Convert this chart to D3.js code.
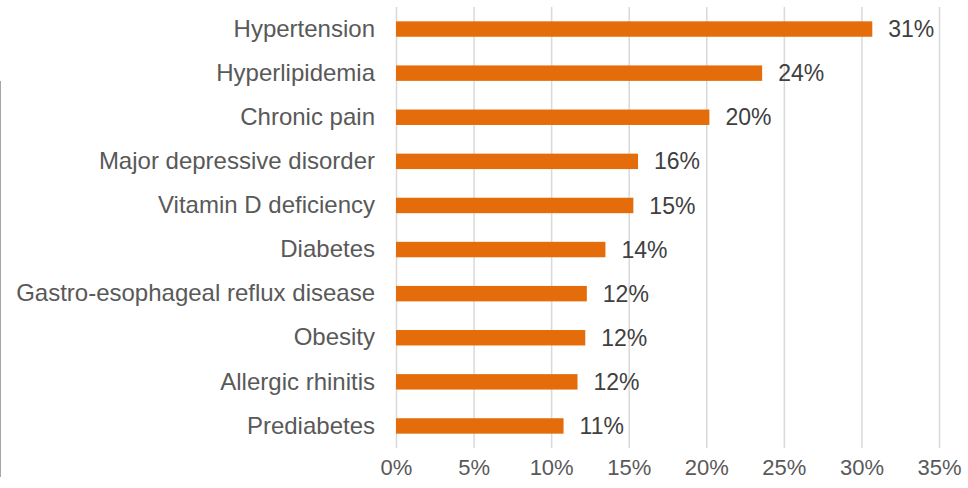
<!DOCTYPE html>
<html>
<head>
<meta charset="utf-8">
<script src="https://cdn.jsdelivr.net/npm/d3@7"></script>
<style>
  body { margin: 0; background: #fff; }
  text { font-family: 'Liberation Sans', Arial, sans-serif; }
</style>
</head>
<body>
<svg width="968" height="488"></svg>
<script>
const conditions = [
  'Hypertension',
  'Hyperlipidemia',
  'Chronic pain',
  'Major depressive disorder',
  'Vitamin D deficiency',
  'Diabetes',
  'Gastro-esophageal reflux disease',
  'Obesity',
  'Allergic rhinitis',
  'Prediabetes'
]
const shares = [30.7, 23.6, 20.2, 15.6, 15.3, 13.5, 12.3, 12.2, 11.7, 10.8]
const shareLabels = ['31%', '24%', '20%', '16%', '15%', '14%', '12%', '12%', '12%', '11%']
const xTicks = [0, 5, 10, 15, 20, 25, 30, 35]

const data = conditions.map((c, i) => ({ condition: c, share: shares[i], label: shareLabels[i] }))

const svg = d3.select('svg')
const margin = { top: 7, right: 29, bottom: 40, left: 396 }
const width = +svg.attr('width')
const height = +svg.attr('height')
const innerWidth = width - margin.left - margin.right
const innerHeight = height - margin.top - margin.bottom

// stray border line at the far left
svg.append('line')
  .attr('x1', 0.5).attr('x2', 0.5)
  .attr('y1', 81).attr('y2', 477)
  .attr('stroke', '#a6a6a6')

const g = svg.append('g')
  .attr('transform', `translate(${margin.left}, ${margin.top})`)

const xScale = d3.scaleLinear()
  .domain([0, 35])
  .range([0, 543])

const yScale = d3.scaleBand()
  .domain(conditions)
  .range([0, innerHeight])
  .paddingInner(0.65)
  .paddingOuter(0.325)

const xAxis = d3.axisBottom(xScale)
  .tickValues(xTicks)
  .tickFormat(d => d + '%')
  .tickSize(-innerHeight)
  .tickPadding(11)

const xAxisGroup = g.append('g')
  .attr('transform', `translate(0, ${innerHeight})`)
  .call(xAxis)

xAxisGroup.select('.domain').remove()
xAxisGroup.selectAll('.tick line')
  .attr('stroke', '#d9d9d9')
  .attr('stroke-width', 1.5)
xAxisGroup.selectAll('.tick text')
  .attr('fill', '#595959')
  .attr('font-size', 22)

const yAxisGroup = g.append('g')
  .call(d3.axisLeft(yScale).tickSize(0).tickPadding(21))
yAxisGroup.select('.domain').remove()
yAxisGroup.selectAll('.tick text')
  .attr('fill', '#595959')
  .attr('font-size', 24)

g.selectAll('rect.bar').data(data)
  .enter().append('rect')
  .attr('class', 'bar')
  .attr('x', 0)
  .attr('y', d => yScale(d.condition))
  .attr('width', d => xScale(d.share))
  .attr('height', yScale.bandwidth())
  .attr('fill', '#e46c0a')

g.selectAll('text.value').data(data)
  .enter().append('text')
  .attr('class', 'value')
  .attr('x', d => xScale(d.share) + 16)
  .attr('y', d => yScale(d.condition) + yScale.bandwidth() / 2)
  .attr('dy', '0.35em')
  .attr('fill', '#404040')
  .attr('font-size', 23)
  .text(d => d.label)
</script>
</body>
</html>
